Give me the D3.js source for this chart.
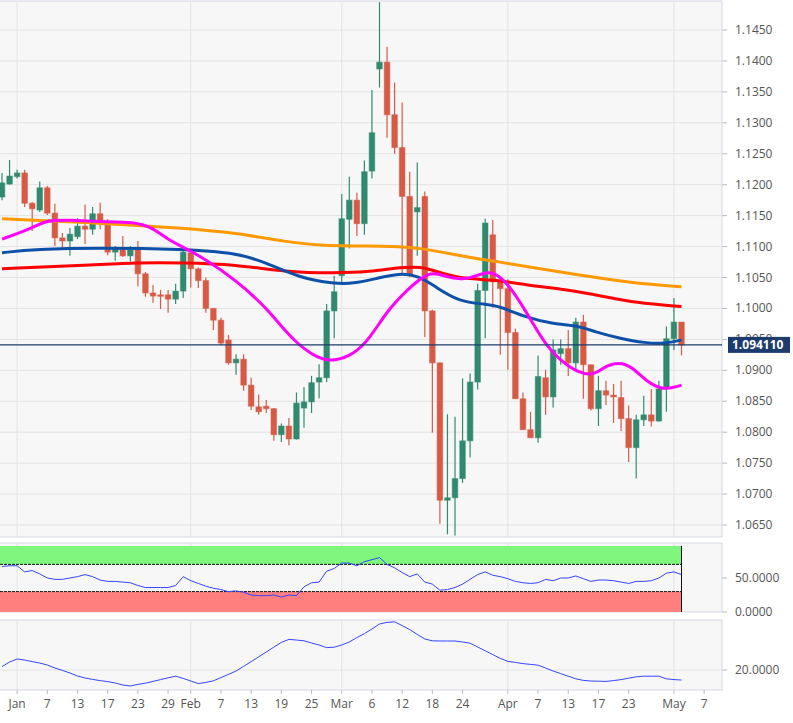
<!DOCTYPE html>
<html><head><meta charset="utf-8">
<script src="https://cdn.jsdelivr.net/npm/d3@7"></script>
<style>body{margin:0;background:#fff}svg{display:block;font-family:"Open Sans",Arial,sans-serif}</style>
</head><body><svg id="c" width="793" height="723"></svg>
<script>
// OHLC per trading day (weekdays from 2019-12-30)
const opens=[1.1180,1.1201,1.1213,1.1219,1.1170,1.1159,1.1195,1.1154,1.1114,1.1109,1.1116,1.1133,1.1128,1.1153,1.1140,1.1091,1.1095,1.1085,1.1095,1.1056,1.1025,1.1022,1.1022,1.1015,1.1028,1.1090,1.1064,1.1045,1.1000,1.0981,1.0949,1.0912,1.0918,1.0876,1.0841,1.0842,1.0838,1.0796,1.0810,1.0789,1.0839,1.0849,1.0881,1.0888,1.0996,1.1053,1.1144,1.1175,1.1137,1.1222,1.1387,1.1398,1.1313,1.1260,1.1181,1.1156,1.1181,1.0996,1.0912,1.0690,1.0694,1.0725,1.0786,1.0881,1.1029,1.1119,1.1045,1.1032,1.0961,1.0854,1.0804,1.0791,1.0888,1.0857,1.0927,1.0935,1.0912,1.0978,1.0909,1.0838,1.0867,1.0860,1.0856,1.0822,1.0775,1.0820,1.0828,1.0818,1.0870,1.0951,1.0978];
const highs=[1.1219,1.1240,1.1224,1.1224,1.1172,1.1205,1.1198,1.1169,1.1122,1.1130,1.1146,1.1168,1.1164,1.1171,1.1144,1.1101,1.1117,1.1101,1.1109,1.1059,1.1038,1.1030,1.1030,1.1040,1.1095,1.1090,1.1066,1.1050,1.1000,1.0985,1.0957,1.0926,1.0926,1.0888,1.0861,1.0852,1.0839,1.0814,1.0823,1.0864,1.0873,1.0891,1.0910,1.1007,1.1053,1.1185,1.1213,1.1187,1.1239,1.1353,1.1495,1.1423,1.1365,1.1333,1.1221,1.1236,1.1189,1.0998,1.0913,1.0829,1.0825,1.0887,1.0895,1.1040,1.1145,1.1143,1.1051,1.1047,1.0967,1.0864,1.0833,1.0924,1.0901,1.0950,1.0950,1.0965,1.0985,1.0990,1.0909,1.0891,1.0883,1.0878,1.0883,1.0843,1.0828,1.0859,1.0870,1.0883,1.0971,1.1017,1.0978];
const lows=[1.1175,1.1200,1.1210,1.1164,1.1125,1.1156,1.1151,1.1101,1.1095,1.1085,1.1112,1.1104,1.1119,1.1128,1.1086,1.1077,1.1083,1.1076,1.1036,1.1019,1.1009,1.0999,1.0993,1.1007,1.1017,1.1034,1.1033,1.0993,1.0965,1.0941,1.0909,1.0893,1.0867,1.0836,1.0828,1.0831,1.0786,1.0784,1.0779,1.0788,1.0807,1.0831,1.0855,1.0881,1.0952,1.1042,1.1097,1.1117,1.1119,1.1210,1.1357,1.1276,1.1250,1.1057,1.1051,1.1085,1.0954,1.0799,1.0652,1.0635,1.0633,1.0718,1.0759,1.0869,1.0952,1.1001,1.0925,1.0901,1.0854,1.0804,1.0791,1.0783,1.0828,1.0840,1.0909,1.0891,1.0902,1.0854,1.0835,1.0810,1.0844,1.0815,1.0802,1.0752,1.0725,1.0810,1.0809,1.0817,1.0833,1.0933,1.0924];
const closes=[1.1203,1.1214,1.1219,1.1170,1.1161,1.1195,1.1154,1.1114,1.1109,1.1120,1.1133,1.1128,1.1153,1.1141,1.1091,1.1098,1.1085,1.1095,1.1056,1.1025,1.1020,1.1021,1.1015,1.1028,1.1091,1.1064,1.1045,1.1000,1.0981,1.0944,1.0912,1.0918,1.0876,1.0842,1.0833,1.0838,1.0796,1.0810,1.0789,1.0847,1.0849,1.0880,1.0888,1.0996,1.1027,1.1145,1.1175,1.1137,1.1221,1.1284,1.1398,1.1313,1.1260,1.1181,1.1055,1.1163,1.0996,1.0912,1.0690,1.0694,1.0725,1.0786,1.0881,1.1029,1.1138,1.1043,1.1032,1.0961,1.0854,1.0804,1.0791,1.0890,1.0857,1.0933,1.0935,1.0912,1.0978,1.0909,1.0838,1.0867,1.0860,1.0857,1.0822,1.0775,1.0820,1.0828,1.0818,1.0870,1.0951,1.0978,1.0941];
// moving averages as [dayIndex, value]
const maFast=[[0,1.1112],[4,1.1130],[6,1.1143],[9,1.1143],[13,1.1140],[17.6,1.1140],[20,1.1130],[22,1.1111],[24,1.1099],[26.5,1.1083],[31,1.1046],[35.3,1.0998],[38.4,1.0949],[42,1.0917],[44,1.0915],[46.5,1.0925],[48.7,1.0951],[51,1.0996],[53.5,1.1028],[56.6,1.1062],[58.8,1.1051],[61,1.1046],[63.2,1.1054],[64.7,1.1061],[66.7,1.1046],[69.4,1.0996],[72,1.0939],[75,1.0904],[78,1.0889],[79.5,1.0904],[81.7,1.0914],[83.5,1.0905],[85.3,1.0883],[87.5,1.0867],[90,1.0876]];
const maMid=[[0,1.1090],[4.4,1.1096],[13,1.1098],[24,1.1096],[31,1.1090],[35,1.1074],[39.5,1.1049],[44,1.1040],[46.5,1.1040],[49.5,1.1048],[52.6,1.1057],[55.2,1.1053],[57.4,1.1035],[60.5,1.1011],[64,1.1007],[65.8,1.1004],[69.3,1.0986],[72.9,1.0975],[76,1.0973],[78.6,1.0962],[81.7,1.0952],[85.2,1.0944],[87.8,1.0943],[90,1.0949]];
const maSlow=[[0,1.1064],[13,1.1071],[17.6,1.1074],[24,1.1074],[31,1.1071],[37.5,1.1059],[44,1.1057],[48.7,1.1059],[53,1.1067],[55.6,1.1067],[57,1.1062],[60.5,1.1048],[65.8,1.1046],[69.3,1.1038],[75,1.1030],[79.5,1.1020],[83.9,1.1009],[90,1.1003]];
const maLong=[[0,1.1145],[13,1.1138],[24,1.1130],[31,1.1122],[37.5,1.1108],[42,1.1101],[51,1.1101],[55,1.1099],[61.5,1.1083],[65.9,1.1075],[70.3,1.1066],[77,1.1053],[83.6,1.1041],[90,1.1035]];
const rsi=[67,68,68,59,61,56,50,48,48,50,52,55,52,47,45,45,44,43,39,36,36,36,36,39,52,46,42,38,35,33,30,31,29,25,24,24,25,22,25,24,37,43,44,60,64,72,72,68,74,77,80,70,65,58,52,56,44,41,32,33,36,41,48,55,59,54,52,49,45,43,42,43,48,46,50,50,53,49,45,47,47,46,44,42,45,45,46,50,57,59,55];
const adx=[21.7,24,25.5,25,24.2,23.5,22.5,21,19.8,18.5,17,16,15.3,14.7,14.2,13.5,12.5,12,12.8,13.4,14.3,15.2,16.1,16.9,15.8,14.5,13.2,13.8,14.6,16.2,17.8,19.5,21.8,24.2,26.6,29,31.4,33.8,35.3,35,34.6,33.5,32.5,31.2,31.4,32.5,34,36.2,38.2,40.5,43,43.8,44.1,42.2,40.2,37.8,35.5,34.6,34.5,34.5,34.5,34,33.4,31.5,29.6,27.7,25.8,24.3,23.8,23.2,22.8,22.4,21,19.5,18.2,16.9,15.6,14.8,14.5,14.4,14.3,14.7,15.2,15.9,16.6,16.9,16.9,16.9,15.6,15.2,15];
const lastPrice=1.09411, lastLabel="1.094110";
const xLabels=["Jan","7","13","17","23","29","Feb","7","13","19","25","Mar","6","12","18","24","Apr","7","13","17","23","May","7"];
const xLabelDates=["2020-01-01","2020-01-07","2020-01-13","2020-01-17","2020-01-23","2020-01-29","2020-02-03","2020-02-07","2020-02-13","2020-02-19","2020-02-25","2020-03-02","2020-03-06","2020-03-12","2020-03-18","2020-03-24","2020-04-01","2020-04-07","2020-04-13","2020-04-17","2020-04-23","2020-05-01","2020-05-07"];
const monthDates=["2020-01-01","2020-02-03","2020-03-02","2020-04-01","2020-05-01"];
const priceTicks=d3.range(1.065,1.14501,0.005);

// trading day index of a date (weekdays since 2019-12-30)
function dayIndex(s){const start=new Date("2019-12-30T00:00:00Z"),d=new Date(s+"T00:00:00Z");let n=0;for(let t=new Date(start);t<d;t.setUTCDate(t.getUTCDate()+1)){const w=t.getUTCDay();if(w!==0&&w!==6)n++;}return n;}

const svg=d3.select("#c");
const R=722;
const x=d3.scaleLinear().domain([0,90]).range([2,681.5]);
const y=d3.scaleLinear().domain([1.065,1.145]).range([525,30]);
const yR=d3.scaleLinear().domain([0,100]).range([612,544]);
const yA=d3.scaleLinear().domain([10,45]).range([690,620]);
const panels=[[1,537],[543,612],[620,690]];
panels.forEach(([t,b])=>svg.append("rect").attr("x",-1).attr("y",t).attr("width",R+1).attr("height",b-t).attr("fill","#f7f7f7").attr("stroke","#d4d7e3"));
const grid="#e3e3e3";
// vertical grid
panels.forEach(([t,b])=>monthDates.forEach(d=>{const xx=x(dayIndex(d));svg.append("line").attr("x1",xx).attr("x2",xx).attr("y1",t+1).attr("y2",b).attr("stroke",grid);}));
// price grid & labels
priceTicks.forEach(p=>{svg.append("line").attr("x1",0).attr("x2",R).attr("y1",y(p)).attr("y2",y(p)).attr("stroke",grid);
 svg.append("line").attr("x1",R).attr("x2",R+5).attr("y1",y(p)).attr("y2",y(p)).attr("stroke","#bbb");
 svg.append("text").attr("x",R+13).attr("y",y(p)+4).attr("font-size",12).attr("fill","#555").text(p.toFixed(4));});
const clip=svg.append("clipPath").attr("id","mc").append("rect").attr("x",0).attr("y",1).attr("width",R).attr("height",536);
const g=svg.append("g").attr("clip-path","url(#mc)");
// candles
const up="#318a70",dn="#d75a45";
closes.forEach((c,i)=>{const o=opens[i],col=c>=o?up:dn,xx=x(i);
 g.append("line").attr("x1",xx).attr("x2",xx).attr("y1",y(highs[i])).attr("y2",y(lows[i])).attr("stroke",col).attr("stroke-width",1.2);
 const top=y(Math.max(o,c)),h=Math.max(1.5,Math.abs(y(o)-y(c)));
 g.append("rect").attr("x",xx-2.8).attr("y",top).attr("width",5.6).attr("height",h).attr("fill",col).attr("stroke",col).attr("stroke-opacity",0.5);});
const line=d3.line().x(d=>x(d[0])).y(d=>y(d[1])).curve(d3.curveBasis);
[[maLong,"#ff9900"],[maSlow,"#ff0000"],[maMid,"#0d50a8"],[maFast,"#ff00ff"]].forEach(([d,c])=>g.append("path").attr("d",line(d)).attr("fill","none").attr("stroke",c).attr("stroke-width",3));
// last price line & label
svg.append("line").attr("x1",0).attr("x2",R).attr("y1",y(lastPrice)).attr("y2",y(lastPrice)).attr("stroke","#1d3c6e").attr("stroke-width",1.2);
svg.append("rect").attr("x",R+6).attr("y",y(lastPrice)-8).attr("width",62).attr("height",16).attr("fill","#1d3c6e");
svg.append("text").attr("x",R+10).attr("y",y(lastPrice)+4.5).attr("font-size",12).attr("font-weight","bold").attr("fill","#fff").text(lastLabel);
// RSI panel
const xe=x(rsi.length-1);
svg.append("rect").attr("x",0).attr("y",yR(100)+2).attr("width",xe).attr("height",yR(70)-yR(100)-2).attr("fill","#7ff77f");
svg.append("rect").attr("x",0).attr("y",yR(30)).attr("width",xe).attr("height",yR(0)-yR(30)).attr("fill","#ff7f7f");
[70,30].forEach(v=>svg.append("line").attr("x1",0).attr("x2",xe).attr("y1",yR(v)).attr("y2",yR(v)).attr("stroke","#111").attr("stroke-dasharray","3,1"));
svg.append("line").attr("x1",xe).attr("x2",xe).attr("y1",yR(100)+2).attr("y2",yR(0)).attr("stroke","#111");
svg.append("path").attr("d",d3.line().x((d,i)=>x(i)).y(d=>yR(d))(rsi)).attr("fill","none").attr("stroke","#3344ff").attr("stroke-width",1);
[[50,"50.0000"],[0,"0.0000"]].forEach(([v,t])=>{svg.append("line").attr("x1",R).attr("x2",R+5).attr("y1",yR(v)).attr("y2",yR(v)).attr("stroke","#bbb");
 svg.append("text").attr("x",R+13).attr("y",yR(v)+4).attr("font-size",12).attr("fill","#555").text(t);});
// bottom panel
svg.append("line").attr("x1",0).attr("x2",R).attr("y1",yA(20)).attr("y2",yA(20)).attr("stroke",grid);
svg.append("line").attr("x1",R).attr("x2",R+5).attr("y1",yA(20)).attr("y2",yA(20)).attr("stroke","#bbb");
svg.append("text").attr("x",R+13).attr("y",yA(20)+4).attr("font-size",12).attr("fill","#555").text("20.0000");
svg.append("path").attr("d",d3.line().x((d,i)=>x(i)).y(d=>yA(d))(adx)).attr("fill","none").attr("stroke","#3344ff").attr("stroke-width",1);
// x labels
xLabels.forEach((l,k)=>{const xx=x(dayIndex(xLabelDates[k]));
 svg.append("line").attr("x1",xx).attr("x2",xx).attr("y1",690).attr("y2",694).attr("stroke","#bbb");
 svg.append("text").attr("x",xx).attr("y",708).attr("text-anchor","middle").attr("font-size",12).attr("fill","#555").text(l);});
</script></body></html>
